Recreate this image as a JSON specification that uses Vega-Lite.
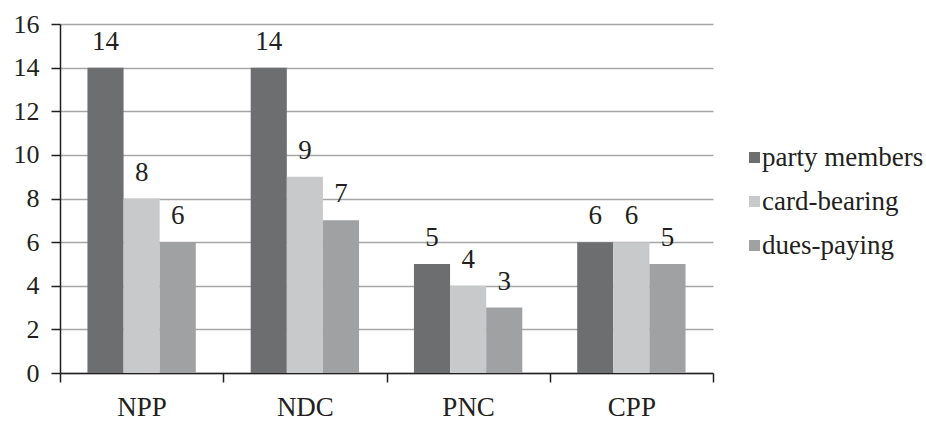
{
  "$schema": "https://vega.github.io/schema/vega-lite/v6.json",
  "autosize": "none",
  "width": 653,
  "height": 349,
  "padding": {"left": 60, "top": 24, "right": 213, "bottom": 48},
  "background": "white",
  "config": {
    "font": "Liberation Serif",
    "view": {"stroke": null}
  },
  "data": {
    "values": [
      {"party": "NPP", "type": "party members", "value": 14},
      {"party": "NPP", "type": "card-bearing", "value": 8},
      {"party": "NPP", "type": "dues-paying", "value": 6},
      {"party": "NDC", "type": "party members", "value": 14},
      {"party": "NDC", "type": "card-bearing", "value": 9},
      {"party": "NDC", "type": "dues-paying", "value": 7},
      {"party": "PNC", "type": "party members", "value": 5},
      {"party": "PNC", "type": "card-bearing", "value": 4},
      {"party": "PNC", "type": "dues-paying", "value": 3},
      {"party": "CPP", "type": "party members", "value": 6},
      {"party": "CPP", "type": "card-bearing", "value": 6},
      {"party": "CPP", "type": "dues-paying", "value": 5}
    ]
  },
  "encoding": {
    "x": {
      "field": "party", "type": "nominal", "sort": ["NPP", "NDC", "PNC", "CPP"],
      "scale": {"paddingInner": 0, "paddingOuter": 0},
      "axis": {
        "title": null, "labelAngle": 0, "labelFontSize": 27, "labelColor": "#231f20",
        "labelPadding": 12, "tickBand": "extent", "tickSize": 9, "tickColor": "#231f20",
        "tickWidth": 1.5, "domainColor": "#231f20", "domainWidth": 1.5, "grid": false
      }
    },
    "xOffset": {
      "field": "type", "type": "nominal",
      "sort": ["party members", "card-bearing", "dues-paying"],
      "scale": {"paddingInner": 0, "paddingOuter": 0.76}
    },
    "y": {
      "field": "value", "type": "quantitative",
      "scale": {"domain": [0, 16], "nice": false},
      "axis": {
        "title": null, "values": [0, 2, 4, 6, 8, 10, 12, 14, 16],
        "labelFontSize": 26, "labelColor": "#231f20", "labelPadding": 12,
        "tickSize": 9, "tickColor": "#231f20", "tickWidth": 1.5,
        "domainColor": "#231f20", "domainWidth": 1.5,
        "grid": true, "gridColor": "#a6a6a6", "gridWidth": 1.5
      }
    }
  },
  "layer": [
    {
      "mark": {"type": "bar"},
      "encoding": {
        "color": {
          "field": "type", "type": "nominal",
          "sort": ["party members", "card-bearing", "dues-paying"],
          "scale": {"domain": ["party members", "card-bearing", "dues-paying"], "range": ["#6d6e70", "#c8c9cb", "#a0a1a3"]},
          "legend": {
            "title": null, "orient": "none", "legendX": 681, "legendY": 120,
            "symbolType": "square", "symbolSize": 121, "symbolStrokeWidth": 0,
            "labelFontSize": 27, "labelColor": "#231f20", "labelOffset": -6,
            "labelLimit": 300, "rowPadding": 16
          }
        }
      }
    },
    {
      "mark": {"type": "text", "baseline": "alphabetic", "dy": -18, "fontSize": 27, "color": "#231f20"},
      "encoding": {"text": {"field": "value", "type": "quantitative"}}
    }
  ]
}
